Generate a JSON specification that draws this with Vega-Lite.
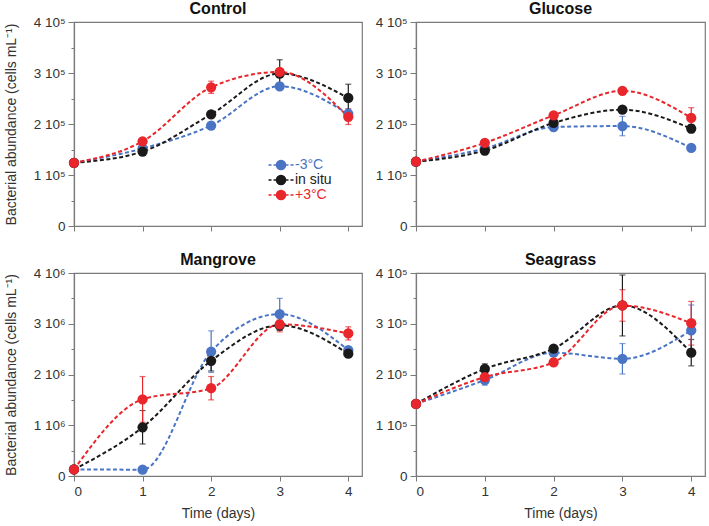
{
  "$schema": "https://vega.github.io/schema/vega-lite/v6.json",
  "padding": {"left": 3, "top": 0, "right": 1, "bottom": 0},
  "background": "white",
  "datasets": {
    "d": [
      {"panel": "Control", "treatment": "-3°C", "day": 0, "value": 124000, "err": 2000},
      {"panel": "Control", "treatment": "-3°C", "day": 1, "value": 152000, "err": 3000},
      {"panel": "Control", "treatment": "-3°C", "day": 2, "value": 197000, "err": 3000},
      {"panel": "Control", "treatment": "-3°C", "day": 3, "value": 274000, "err": 6000},
      {"panel": "Control", "treatment": "-3°C", "day": 4, "value": 220000, "err": 10000},
      {"panel": "Control", "treatment": "in situ", "day": 0, "value": 124000, "err": 2000},
      {"panel": "Control", "treatment": "in situ", "day": 1, "value": 146000, "err": 3000},
      {"panel": "Control", "treatment": "in situ", "day": 2, "value": 219000, "err": 4000},
      {"panel": "Control", "treatment": "in situ", "day": 3, "value": 299000, "err": 27000},
      {"panel": "Control", "treatment": "in situ", "day": 4, "value": 251000, "err": 27000},
      {"panel": "Control", "treatment": "+3°C", "day": 0, "value": 124000, "err": 2000},
      {"panel": "Control", "treatment": "+3°C", "day": 1, "value": 166000, "err": 3000},
      {"panel": "Control", "treatment": "+3°C", "day": 2, "value": 272000, "err": 12000},
      {"panel": "Control", "treatment": "+3°C", "day": 3, "value": 302000, "err": 6000},
      {"panel": "Control", "treatment": "+3°C", "day": 4, "value": 214000, "err": 15000},

      {"panel": "Glucose", "treatment": "-3°C", "day": 0, "value": 126000, "err": 2000},
      {"panel": "Glucose", "treatment": "-3°C", "day": 1, "value": 152000, "err": 3000},
      {"panel": "Glucose", "treatment": "-3°C", "day": 2, "value": 194000, "err": 4000},
      {"panel": "Glucose", "treatment": "-3°C", "day": 3, "value": 196000, "err": 19000},
      {"panel": "Glucose", "treatment": "-3°C", "day": 4, "value": 153000, "err": 3000},
      {"panel": "Glucose", "treatment": "in situ", "day": 0, "value": 126000, "err": 2000},
      {"panel": "Glucose", "treatment": "in situ", "day": 1, "value": 148000, "err": 8000},
      {"panel": "Glucose", "treatment": "in situ", "day": 2, "value": 202000, "err": 5000},
      {"panel": "Glucose", "treatment": "in situ", "day": 3, "value": 228000, "err": 3000},
      {"panel": "Glucose", "treatment": "in situ", "day": 4, "value": 191000, "err": 8000},
      {"panel": "Glucose", "treatment": "+3°C", "day": 0, "value": 126000, "err": 2000},
      {"panel": "Glucose", "treatment": "+3°C", "day": 1, "value": 163000, "err": 4000},
      {"panel": "Glucose", "treatment": "+3°C", "day": 2, "value": 217000, "err": 4000},
      {"panel": "Glucose", "treatment": "+3°C", "day": 3, "value": 265000, "err": 3000},
      {"panel": "Glucose", "treatment": "+3°C", "day": 4, "value": 212000, "err": 20000},

      {"panel": "Mangrove", "treatment": "-3°C", "day": 0, "value": 130000, "err": 20000},
      {"panel": "Mangrove", "treatment": "-3°C", "day": 1, "value": 125000, "err": 20000},
      {"panel": "Mangrove", "treatment": "-3°C", "day": 2, "value": 2450000, "err": 410000},
      {"panel": "Mangrove", "treatment": "-3°C", "day": 3, "value": 3190000, "err": 310000},
      {"panel": "Mangrove", "treatment": "-3°C", "day": 4, "value": 2480000, "err": 50000},
      {"panel": "Mangrove", "treatment": "in situ", "day": 0, "value": 130000, "err": 20000},
      {"panel": "Mangrove", "treatment": "in situ", "day": 1, "value": 960000, "err": 330000},
      {"panel": "Mangrove", "treatment": "in situ", "day": 2, "value": 2270000, "err": 200000},
      {"panel": "Mangrove", "treatment": "in situ", "day": 3, "value": 2970000, "err": 100000},
      {"panel": "Mangrove", "treatment": "in situ", "day": 4, "value": 2410000, "err": 50000},
      {"panel": "Mangrove", "treatment": "+3°C", "day": 0, "value": 130000, "err": 20000},
      {"panel": "Mangrove", "treatment": "+3°C", "day": 1, "value": 1510000, "err": 450000},
      {"panel": "Mangrove", "treatment": "+3°C", "day": 2, "value": 1730000, "err": 230000},
      {"panel": "Mangrove", "treatment": "+3°C", "day": 3, "value": 2990000, "err": 150000},
      {"panel": "Mangrove", "treatment": "+3°C", "day": 4, "value": 2810000, "err": 130000},

      {"panel": "Seagrass", "treatment": "-3°C", "day": 0, "value": 142000, "err": 2000},
      {"panel": "Seagrass", "treatment": "-3°C", "day": 1, "value": 189000, "err": 10000},
      {"panel": "Seagrass", "treatment": "-3°C", "day": 2, "value": 243000, "err": 4000},
      {"panel": "Seagrass", "treatment": "-3°C", "day": 3, "value": 231000, "err": 30000},
      {"panel": "Seagrass", "treatment": "-3°C", "day": 4, "value": 287000, "err": 50000},
      {"panel": "Seagrass", "treatment": "in situ", "day": 0, "value": 142000, "err": 2000},
      {"panel": "Seagrass", "treatment": "in situ", "day": 1, "value": 211000, "err": 10000},
      {"panel": "Seagrass", "treatment": "in situ", "day": 2, "value": 251000, "err": 4000},
      {"panel": "Seagrass", "treatment": "in situ", "day": 3, "value": 336000, "err": 60000},
      {"panel": "Seagrass", "treatment": "in situ", "day": 4, "value": 243000, "err": 26000},
      {"panel": "Seagrass", "treatment": "+3°C", "day": 0, "value": 142000, "err": 2000},
      {"panel": "Seagrass", "treatment": "+3°C", "day": 1, "value": 195000, "err": 5000},
      {"panel": "Seagrass", "treatment": "+3°C", "day": 2, "value": 224000, "err": 4000},
      {"panel": "Seagrass", "treatment": "+3°C", "day": 3, "value": 336000, "err": 31000},
      {"panel": "Seagrass", "treatment": "+3°C", "day": 4, "value": 301000, "err": 43000}
    ],
    "letters": [
      {"panel": "Control", "letter": "A"},
      {"panel": "Glucose", "letter": "B"},
      {"panel": "Mangrove", "letter": "C"},
      {"panel": "Seagrass", "letter": "D"}
    ]
  },
  "columns": 2,
  "spacing": {"row": 17, "column": 11},
  "resolve": {"scale": {"color": "independent"}, "legend": {"color": "independent"}},
  "concat": [
    {
      "title": "Control",
      "width": 288, "height": 204,
      "data": {"name": "d"},
      "transform": [{"filter": "datum.panel == 'Control'"}],
      "encoding": {
        "x": {"field": "day", "type": "quantitative", "scale": {"domain": [0, 4.2], "nice": false, "zero": false, "padding": 0},
          "axis": {"values": [0, 1, 2, 3, 4], "labels": false, "title": null}},
        "y": {"field": "value", "type": "quantitative", "scale": {"domain": [0, 400000], "nice": false, "padding": 0}, "title": "Bacterial abundance (cells mL⁻¹)",
          "axis": {"values": [0, 50000, 100000, 150000, 200000, 250000, 300000, 350000, 400000],
            "labelExpr": "datum.value % 100000 == 0 ? (datum.value == 0 ? '0' : (datum.value / 100000) + ' 10⁵') : ''",
            "tickSize": {"condition": {"test": "datum.value % 100000 == 0", "value": 6}, "value": 3}}},
        "color": {"field": "treatment", "type": "nominal",
          "scale": {"domain": ["-3°C", "in situ", "+3°C"], "range": ["#4a74c4", "#1a1a1a", "#e8262b"]},
          "legend": {
            "orient": "none", "legendX": 200, "legendY": 136, "title": null,
            "symbolType": "M-2.5,0H-1.9M-1.5,0H-0.9M0.9,0H1.5M1.9,0H2.5M-0.9,0A0.9,0.9,0,1,1,0.9,0A0.9,0.9,0,1,1,-0.9,0Z",
            "symbolSize": 100, "symbolStrokeWidth": 1.6, "labelOffset": 7, "rowPadding": -5,
            "labelFontSize": 14, "labelFont": "Liberation Sans",
            "encode": {
              "symbols": {"update": {
                "fill": {"signal": "datum.value == '-3°C' ? '#4a74c4' : datum.value == '+3°C' ? '#e8262b' : '#1a1a1a'"},
                "stroke": {"signal": "datum.value == '-3°C' ? '#4a74c4' : datum.value == '+3°C' ? '#e8262b' : '#1a1a1a'"},
                "opacity": {"value": 1}}},
              "labels": {"update": {
                "fill": {"signal": "datum.value == '-3°C' ? '#4a74c4' : datum.value == '+3°C' ? '#e8262b' : '#1a1a1a'"}}}
            }
          }}
      },
      "layer": [
        {"mark": {"type": "line", "interpolate": "monotone", "strokeDash": [4, 2.5], "strokeWidth": 2}},
        {"mark": {"type": "errorbar", "ticks": {"size": 6}, "thickness": 1.2}, "encoding": {"yError": {"field": "err"}}},
        {"mark": {"type": "point", "filled": true, "size": 105, "opacity": 1}},
        {
          "data": {"name": "letters"},
          "transform": [{"filter": "datum.panel == 'Control'"}],
          "mark": {"type": "text", "fontSize": 18, "align": "left", "baseline": "middle", "font": "Liberation Sans"},
          "encoding": {
            "x": {"datum": 0.08, "type": "quantitative"},
            "y": {"datum": 370000, "type": "quantitative"},
            "color": {"value": "#222"},
            "text": {"field": "letter"}
          }
        }
      ]
    },
    {
      "title": "Glucose",
      "width": 289, "height": 204,
      "data": {"name": "d"},
      "transform": [{"filter": "datum.panel == 'Glucose'"}],
      "encoding": {
        "x": {"field": "day", "type": "quantitative", "scale": {"domain": [0, 4.2], "nice": false, "zero": false, "padding": 0},
          "axis": {"values": [0, 1, 2, 3, 4], "labels": false, "title": null}},
        "y": {"field": "value", "type": "quantitative", "scale": {"domain": [0, 400000], "nice": false, "padding": 0}, "title": null,
          "axis": {"values": [0, 50000, 100000, 150000, 200000, 250000, 300000, 350000, 400000],
            "labelExpr": "datum.value % 100000 == 0 ? (datum.value == 0 ? '0' : (datum.value / 100000) + ' 10⁵') : ''",
            "tickSize": {"condition": {"test": "datum.value % 100000 == 0", "value": 6}, "value": 3}}},
        "color": {"field": "treatment", "type": "nominal",
          "scale": {"domain": ["-3°C", "in situ", "+3°C"], "range": ["#4a74c4", "#1a1a1a", "#e8262b"]}, "legend": null}
      },
      "layer": [
        {"mark": {"type": "line", "interpolate": "monotone", "strokeDash": [4, 2.5], "strokeWidth": 2}},
        {"mark": {"type": "errorbar", "ticks": {"size": 6}, "thickness": 1.2}, "encoding": {"yError": {"field": "err"}}},
        {"mark": {"type": "point", "filled": true, "size": 105, "opacity": 1}},
        {
          "data": {"name": "letters"},
          "transform": [{"filter": "datum.panel == 'Glucose'"}],
          "mark": {"type": "text", "fontSize": 18, "align": "left", "baseline": "middle", "font": "Liberation Sans"},
          "encoding": {
            "x": {"datum": 0.08, "type": "quantitative"},
            "y": {"datum": 370000, "type": "quantitative"},
            "color": {"value": "#222"},
            "text": {"field": "letter"}
          }
        }
      ]
    },
    {
      "title": "Mangrove",
      "width": 288, "height": 203,
      "data": {"name": "d"},
      "transform": [{"filter": "datum.panel == 'Mangrove'"}],
      "encoding": {
        "x": {"field": "day", "type": "quantitative", "scale": {"domain": [0, 4.2], "nice": false, "zero": false, "padding": 0}, "title": "Time (days)",
          "axis": {"values": [0, 1, 2, 3, 4], "format": "d"}},
        "y": {"field": "value", "type": "quantitative", "scale": {"domain": [0, 4000000], "nice": false, "padding": 0}, "title": "Bacterial abundance (cells mL⁻¹)",
          "axis": {"values": [0, 500000, 1000000, 1500000, 2000000, 2500000, 3000000, 3500000, 4000000],
            "labelExpr": "datum.value % 1000000 == 0 ? (datum.value == 0 ? '0' : (datum.value / 1000000) + ' 10⁶') : ''",
            "tickSize": {"condition": {"test": "datum.value % 1000000 == 0", "value": 6}, "value": 3}}},
        "color": {"field": "treatment", "type": "nominal",
          "scale": {"domain": ["-3°C", "in situ", "+3°C"], "range": ["#4a74c4", "#1a1a1a", "#e8262b"]}, "legend": null}
      },
      "layer": [
        {"mark": {"type": "line", "interpolate": "monotone", "strokeDash": [4, 2.5], "strokeWidth": 2}},
        {"mark": {"type": "errorbar", "ticks": {"size": 6}, "thickness": 1.2}, "encoding": {"yError": {"field": "err"}}},
        {"mark": {"type": "point", "filled": true, "size": 105, "opacity": 1}},
        {
          "data": {"name": "letters"},
          "transform": [{"filter": "datum.panel == 'Mangrove'"}],
          "mark": {"type": "text", "fontSize": 18, "align": "left", "baseline": "middle", "font": "Liberation Sans"},
          "encoding": {
            "x": {"datum": 0.08, "type": "quantitative"},
            "y": {"datum": 3700000, "type": "quantitative"},
            "color": {"value": "#222"},
            "text": {"field": "letter"}
          }
        }
      ]
    },
    {
      "title": "Seagrass",
      "width": 289, "height": 203,
      "data": {"name": "d"},
      "transform": [{"filter": "datum.panel == 'Seagrass'"}],
      "encoding": {
        "x": {"field": "day", "type": "quantitative", "scale": {"domain": [0, 4.2], "nice": false, "zero": false, "padding": 0}, "title": "Time (days)",
          "axis": {"values": [0, 1, 2, 3, 4], "format": "d"}},
        "y": {"field": "value", "type": "quantitative", "scale": {"domain": [0, 400000], "nice": false, "padding": 0}, "title": null,
          "axis": {"values": [0, 50000, 100000, 150000, 200000, 250000, 300000, 350000, 400000],
            "labelExpr": "datum.value % 100000 == 0 ? (datum.value == 0 ? '0' : (datum.value / 100000) + ' 10⁵') : ''",
            "tickSize": {"condition": {"test": "datum.value % 100000 == 0", "value": 6}, "value": 3}}},
        "color": {"field": "treatment", "type": "nominal",
          "scale": {"domain": ["-3°C", "in situ", "+3°C"], "range": ["#4a74c4", "#1a1a1a", "#e8262b"]}, "legend": null}
      },
      "layer": [
        {"mark": {"type": "line", "interpolate": "monotone", "strokeDash": [4, 2.5], "strokeWidth": 2}},
        {"mark": {"type": "errorbar", "ticks": {"size": 6}, "thickness": 1.2}, "encoding": {"yError": {"field": "err"}}},
        {"mark": {"type": "point", "filled": true, "size": 105, "opacity": 1}},
        {
          "data": {"name": "letters"},
          "transform": [{"filter": "datum.panel == 'Seagrass'"}],
          "mark": {"type": "text", "fontSize": 18, "align": "left", "baseline": "middle", "font": "Liberation Sans"},
          "encoding": {
            "x": {"datum": 0.08, "type": "quantitative"},
            "y": {"datum": 370000, "type": "quantitative"},
            "color": {"value": "#222"},
            "text": {"field": "letter"}
          }
        }
      ]
    }
  ],
  "config": {
    "font": "Liberation Sans",
    "view": {"stroke": "#7a7a7a", "strokeWidth": 1.2},
    "title": {"fontSize": 16, "fontWeight": "bold", "color": "#111", "offset": -2, "font": "Liberation Sans", "frame": "group"},
    "axis": {
      "grid": false, "domainColor": "#7a7a7a", "tickColor": "#7a7a7a", "domainWidth": 1.2, "tickWidth": 1,
      "labelFontSize": 13.5, "labelColor": "#333", "labelFont": "Liberation Sans",
      "titleFontSize": 14, "titleFontWeight": "normal", "titleColor": "#333", "titleFont": "Liberation Sans",
      "tickSize": 5, "labelPadding": 3
    },
    "axisY": {"titlePadding": 15, "labelPadding": 3},
    "axisX": {"titlePadding": 9}
  }
}
